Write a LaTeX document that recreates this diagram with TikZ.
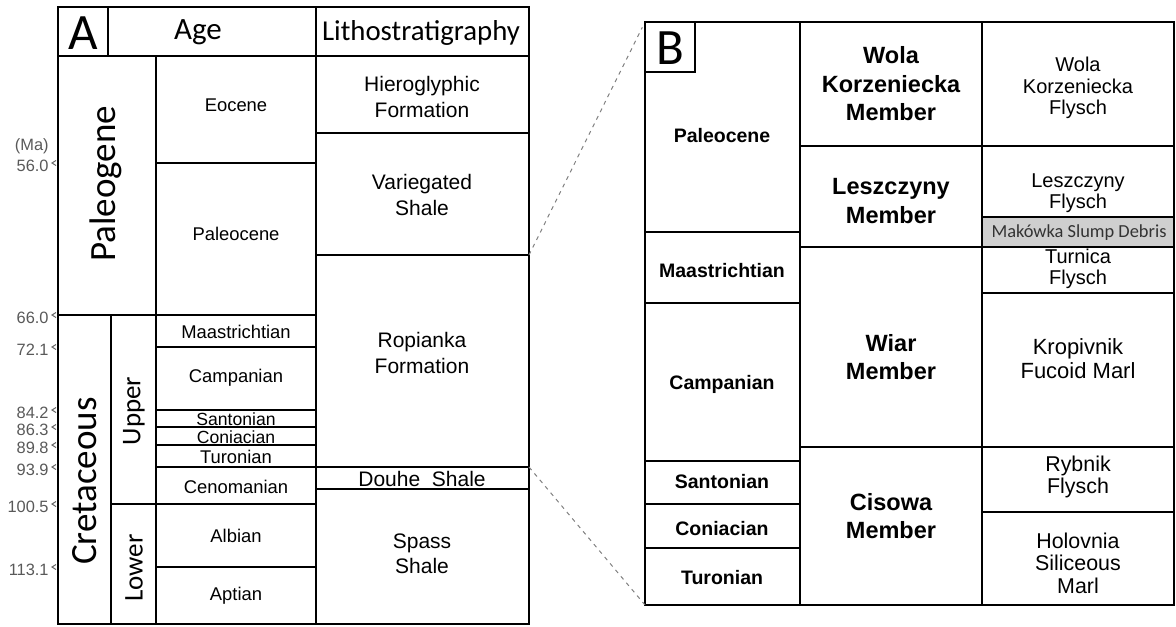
\documentclass[tikz,border=0pt]{standalone}
\usepackage{fontspec}
\setmainfont{Liberation Sans}
\newfontfamily\calfont{Carlito}
\usetikzlibrary{arrows}

\tikzset{
  frame/.style={line width=1.1pt},
  rule/.style={line width=0.65pt},
  stage/.style={font=\fontsize{9.2}{11}\selectfont, align=center, inner sep=0pt},
  litho/.style={font=\fontsize{10.5}{12.6}\selectfont, align=center, inner sep=0pt},
  head/.style={font=\calfont\fontsize{14.4}{17}\selectfont, inner sep=0pt},
  panel/.style={font=\calfont\fontsize{25.5}{28}\selectfont, inner sep=0pt},
  era/.style={font=\calfont\fontsize{18.5}{20}\selectfont, rotate=90, inner sep=0pt},
  epoch/.style={font=\calfont\fontsize{13.5}{15}\selectfont, rotate=90, inner sep=0pt},
  ma/.style={font=\fontsize{8.2}{9}\selectfont, text=black!65, anchor=east, inner sep=0pt},
  bstage/.style={font=\bfseries\fontsize{9.75}{11}\selectfont, align=center, inner sep=0pt},
  member/.style={font=\bfseries\fontsize{11.75}{14.3}\selectfont, align=center, inner sep=0pt},
  flysch/.style={font=\fontsize{10}{10.8}\selectfont, align=center, inner sep=0pt},
  zoomline/.style={draw=black!50, line width=0.5pt, dash pattern=on 2pt off 2.2pt}
}

\begin{document}
\begin{tikzpicture}[x=0.5pt,y=-0.5pt]
\useasboundingbox (0,0) rectangle (1176,626);

% panel A: frame and rules
\coordinate (A-nw) at (58,7);
\coordinate (A-se) at (529,624);
\draw[frame] (A-nw) rectangle (A-se);
\draw[rule] (58,56) -- (529,56) (108,7) -- (108,56) (316,7) -- (316,624)
  (156,56) -- (156,624) (111,315) -- (111,624)
  (58,315) -- (316,315) (111,504) -- (316,504);
\foreach \y in {163,347,410,427,445,467,567}
  \draw[rule] (156,\y) -- (316,\y);
\foreach \y in {133,255,467,489}
  \draw[rule] (316,\y) -- (529,\y);

% panel A: labels
\node[panel] (lblA) at (83,33) {A};
\node[head, font=\calfont\fontsize{15.5}{18}\selectfont] (age) at (198,32) {Age};
\node[head] (lith) at (421,33) {Lithostratigraphy};
\node[era] (paleogene) at (106,184) {Paleogene};
\node[era] (cretaceous) at (85,481) {Cretaceous};
\node[epoch] (upper) at (134,411) {Upper};
\node[epoch] (lower) at (134,568) {Lower};

\node[stage] (eocene) at (236,105) {Eocene};
\node[stage] (paleocA) at (236,234) {Paleocene};
\node[stage] (maasA) at (236,332) {Maastrichtian};
\node[stage] (campA) at (236,378) {Campanian};
\node[stage, font=\fontsize{8.8}{10}\selectfont] (santA) at (236,419) {Santonian};
\node[stage, font=\fontsize{8.8}{10}\selectfont] (coniA) at (236,437) {Coniacian};
\node[stage] (turA) at (236,457) {Turonian};
\node[stage] (cenA) at (236,487) {Cenomanian};
\node[stage] (albA) at (236,536) {Albian};
\node[stage] (aptA) at (236,596) {Aptian};

\node[litho] (hiero) at (422,97) {Hieroglyphic\\Formation};
\node[litho] (varieg) at (422,195) {Variegated\\Shale};
\node[litho] (ropia) at (422,353) {Ropianka\\Formation};
\node[litho] (douhe) at (422,479) {Douhe\ \ Shale};
\node[litho] (spass) at (422,554) {Spass\\Shale};

% age axis
\node[ma] (maunit) at (49,146) {(Ma)};
\foreach \t/\y in {56.0/163,66.0/315,72.1/347,84.2/410,86.3/427,89.8/445,93.9/467,100.5/504,113.1/567}{
  \node[ma] (ma-\t) at (49,\y+3) {\t};
  \draw[black!60, line width=0.5pt] (56,\y-2.5) -- (52,\y) -- (56,\y+2.5);
}

% panel B: frame and rules
\coordinate (B-nw) at (645,22);
\coordinate (B-se) at (1174,605);
\fill[black!19] (982,217) rectangle (1174,247);
\draw[frame] (B-nw) rectangle (B-se);
\draw[rule] (645,72) -- (695,72) -- (695,22)
  (800,22) -- (800,605) (982,22) -- (982,605);
\foreach \y in {232,303,461,504,548}
  \draw[rule] (645,\y) -- (800,\y);
\foreach \y in {146,247,447}
  \draw[rule] (800,\y) -- (982,\y);
\foreach \y in {146,217,247,293,447,512}
  \draw[rule] (982,\y) -- (1174,\y);

% panel B: labels
\node[panel] (lblB) at (670,48) {B};
\node[bstage] (paleocB) at (722,136) {Paleocene};
\node[bstage] (maasB) at (722,271) {Maastrichtian};
\node[bstage] (campB) at (722,384) {Campanian};
\node[bstage] (santB) at (722,482) {Santonian};
\node[bstage] (coniB) at (722,529) {Coniacian};
\node[bstage] (turB) at (722,578) {Turonian};

\node[member] (wolaM) at (891,84) {Wola\\Korzeniecka\\Member};
\node[member] (leszM) at (891,201) {Leszczyny\\Member};
\node[member] (wiarM) at (891,357) {Wiar\\Member};
\node[member] (cisM) at (891,516) {Cisowa\\Member};

\node[flysch] (wolaF) at (1078,88) {Wola\\Korzeniecka\\Flysch};
\node[flysch] (leszF) at (1078,193) {Leszczyny\\Flysch};
\node[font=\calfont\fontsize{9.2}{10}\selectfont, text=black!80, inner sep=0pt] (makow) at (1079,233) {Makówka Slump Debris};
\node[flysch] (turF) at (1078,269) {Turnica\\Flysch};
\node[flysch, font=\fontsize{11}{12}\selectfont] (kropF) at (1078,359) {Kropivnik\\Fucoid Marl};
\node[flysch, font=\fontsize{10.7}{11.2}\selectfont] (rybF) at (1078,477) {Rybnik\\Flysch};
\node[flysch, font=\fontsize{10.7}{11.2}\selectfont] (holF) at (1078,563) {Holovnia\\Siliceous\\Marl};

% zoom lines A -> B
\coordinate (A-top) at (529,255);
\coordinate (A-bot) at (529,467);
\path[zoomline]
  (A-top) edge[shorten >=3pt] (B-nw)
  (A-bot) edge (645,605);
\end{tikzpicture}
\end{document}
